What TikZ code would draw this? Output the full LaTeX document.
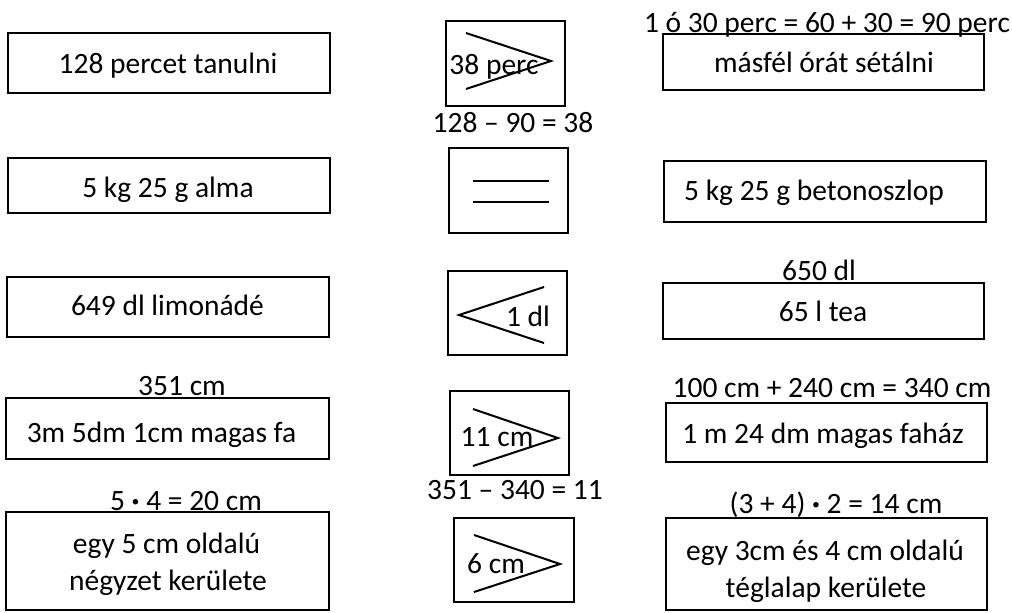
\documentclass[tikz,border=0pt]{standalone}
\usepackage{fontspec}
\setmainfont{Carlito}
\begin{document}
\begin{tikzpicture}[x=1pt,y=1pt,yscale=-1,xscale=1,
    box/.style={draw, line width=2pt, rectangle, inner sep=0pt},
    txt/.style={anchor=base, inner sep=0.75pt, font=\fontsize{29.5}{37}\selectfont},
    rel/.style={line width=2pt}]
    \useasboundingbox (0,0) rectangle (1012,613);

    %Shape: Rectangle [left column]
    \node [box, minimum width=322pt, minimum height=60pt] (tanul) at (169,63) {};
    \node [box, minimum width=322pt, minimum height=55pt] (alma) at (169,185.5) {};
    \node [box, minimum width=322pt, minimum height=60pt] (limo) at (168,307) {};
    \node [box, minimum width=323pt, minimum height=61pt] (fa) at (167.5,428.5) {};
    \node [box, minimum width=323pt, minimum height=98pt] (negyzet) at (167.5,561) {};
    %Shape: Rectangle [middle column]
    \node [box, minimum width=119pt, minimum height=85pt] (rela) at (505.5,63.5) {};
    \node [box, minimum width=119pt, minimum height=85pt] (relb) at (508.5,190.5) {};
    \node [box, minimum width=119pt, minimum height=84pt] (relc) at (507.5,313) {};
    \node [box, minimum width=119pt, minimum height=84pt] (reld) at (509.5,433) {};
    \node [box, minimum width=120pt, minimum height=84pt] (rele) at (514,560) {};
    %Shape: Rectangle [right column]
    \node [box, minimum width=321pt, minimum height=56pt] (setal) at (823.5,62) {};
    \node [box, minimum width=322pt, minimum height=61pt] (oszlop) at (825,191.5) {};
    \node [box, minimum width=321pt, minimum height=56pt] (tea) at (823.5,311) {};
    \node [box, minimum width=321pt, minimum height=59pt] (fahaz) at (826.5,432.5) {};
    \node [box, minimum width=321pt, minimum height=92pt] (teglalap) at (826.5,564) {};

    %Straight Lines [relation signs]
    \draw [rel] (466,33) -- (551,61) -- (466,89) ;
    \draw [rel] (473,181) -- (549,181) ;
    \draw [rel] (473,202) -- (549,202) ;
    \draw [rel] (544,287) -- (459,315) -- (544,343) ;
    \draw [rel] (473,409) -- (558,438) -- (473,466) ;
    \draw [rel] (474,535) -- (560,564) -- (474,592) ;

    % Text Node
    \node [txt] (ttanul) at (168,73) {128 percet tanulni};
    \node [txt] (talma) at (168,197) {5 kg 25 g alma};
    \node [txt] (tlimo) at (167.5,315) {649 dl limonádé};
    \node [txt] (tfa) at (161.5,442) {3m 5dm 1cm magas fa};
    \node [txt] (lfa) at (182,395) {351 cm};
    \node [txt] (tnegyzeta) at (166.5,553) {egy 5 cm oldalú};
    \node [txt] (tnegyzetb) at (168,590) {négyzet kerülete};
    \node [txt] (lnegyzet) at (186,510) {5 {\bfseries·} 4 = 20 cm};
    % Text Node
    \node [txt] (trela) at (494,74) {38 perc};
    \node [txt] (lrela) at (513,132) {128 – 90 = 38};
    \node [txt] (trelc) at (528,326) {1 dl};
    \node [txt] (treld) at (497,446) {11 cm};
    \node [txt] (lreld) at (515,499) {351 – 340 = 11};
    \node [txt] (trele) at (496,573) {6 cm};
    % Text Node
    \node [txt] (tsetal) at (824,72) {másfél órát sétálni};
    \node [txt] (lsetal) at (827,32) {1 ó 30 perc = 60 + 30 = 90 perc};
    \node [txt] (toszlop) at (814,200) {5 kg 25 g betonoszlop};
    \node [txt] (ttea) at (823,321) {65 l tea};
    \node [txt] (ltea) at (819,280) {650 dl};
    \node [txt] (tfahaz) at (823,443) {1 m 24 dm magas faház};
    \node [txt] (lfahaz) at (832,397) {100 cm + 240 cm = 340 cm};
    \node [txt] (tteglalapa) at (825,560) {egy 3cm és 4 cm oldalú};
    \node [txt] (tteglalapb) at (826,597) {téglalap kerülete};
    \node [txt] (lteglalap) at (836,513) {(3 + 4) {\bfseries·} 2 = 14 cm};

\end{tikzpicture}
\end{document}
